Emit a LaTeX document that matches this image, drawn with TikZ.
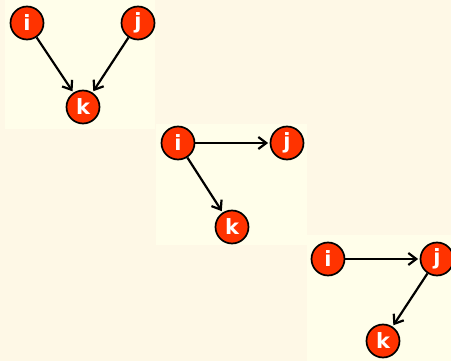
\documentclass[tikz,border=0pt]{standalone}
\usepackage{fontspec}
\newfontfamily\nodefont{DejaVu Sans Bold}
\usetikzlibrary{arrows.meta}
\definecolor{bgout}{HTML}{FEF8E6}
\definecolor{bgpanel}{HTML}{FFFEEA}
\definecolor{nodered}{HTML}{FF3300}
\tikzset{
  vnode/.style={circle, draw=black, line width=1.7pt, fill=nodered, minimum size=33pt, inner sep=0pt,
    text=white, font=\nodefont\fontsize{21}{21}\selectfont},
  edge/.style={line width=2.2pt, -{Straight Barb[length=8pt,width=12pt,line width=2.2pt]}, shorten >=1.5pt},
  panel/.style={fill=bgpanel, draw=none}
}
\begin{document}
\begin{tikzpicture}[x=1pt,y=-1pt]
\useasboundingbox (0,0) rectangle (451,361);
\fill[bgout] (0,0) rectangle (451,361);
\fill[panel] (5,0) rectangle (155,129);
\fill[panel] (156,124) rectangle (307,245);
\fill[panel] (307,235) rectangle (451,361);
% panel 1
\node[vnode] (i1) at (27,23) {i};
\node[vnode] (j1) at (138,23) {j};
\node[vnode] (k1) at (83,107) {k};
\draw[edge] (i1) -- (k1);
\draw[edge] (j1) -- (k1);
% panel 2
\node[vnode] (i2) at (178,143) {i};
\node[vnode] (j2) at (287,143) {j};
\node[vnode] (k2) at (232,227) {k};
\draw[edge] (i2) -- (j2);
\draw[edge] (i2) -- (k2);
% panel 3
\node[vnode] (i3) at (328,259) {i};
\node[vnode] (j3) at (437,259) {j};
\node[vnode] (k3) at (383,341) {k};
\draw[edge] (i3) -- (j3);
\draw[edge] (j3) -- (k3);
\end{tikzpicture}
\end{document}
